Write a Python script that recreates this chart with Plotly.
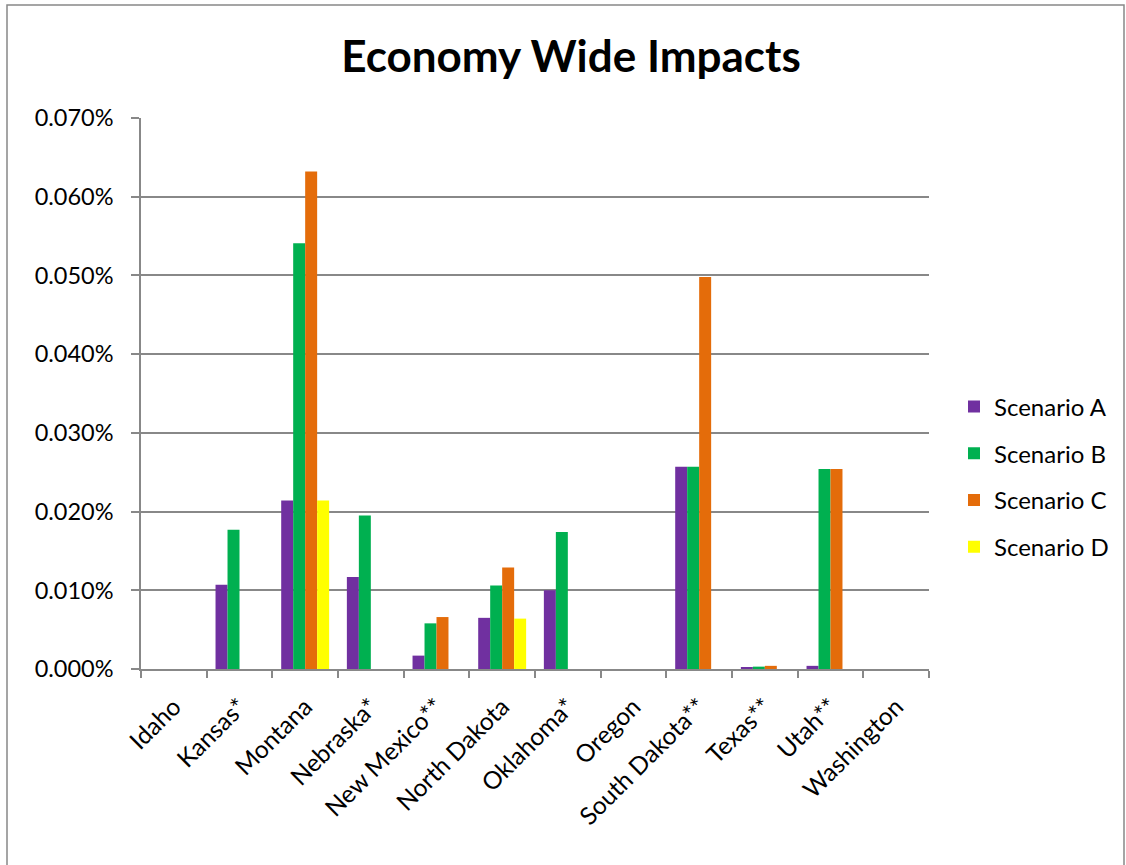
import plotly.graph_objects as go

states = ["Idaho", "Kansas*", "Montana", "Nebraska*", "New Mexico**", "North Dakota",
          "Oklahoma*", "Oregon", "South Dakota**", "Texas**", "Utah**", "Washington"]

# values in percent
scenario_a = [None, 0.0107, 0.0214, 0.0117, 0.0017, 0.0065, 0.0100, None, 0.0257, 0.0002, 0.0004, None]
scenario_b = [None, 0.0177, 0.0541, 0.0195, 0.0058, 0.0106, 0.0174, None, 0.0257, 0.0003, 0.0254, None]
scenario_c = [None, None, 0.0632, None, 0.0066, 0.0129, None, None, 0.0498, 0.0004, 0.0254, None]
scenario_d = [None, None, 0.0214, None, None, 0.0064, None, None, None, None, None, None]

series = [("Scenario A", scenario_a, "#7030A0"),
          ("Scenario B", scenario_b, "#00B050"),
          ("Scenario C", scenario_c, "#E46C0A"),
          ("Scenario D", scenario_d, "#FFFF00")]

FONT = "Lato"
GRID = "#888888"

fig = go.Figure()
for name, vals, col in series:
    fig.add_trace(go.Bar(x=states, y=vals, name=name, marker_color=col,
                         marker_line_width=0, legendgroup=name))

W, H = 1126, 865
L, R, T, B = 141, 929, 118, 669
pw, ph = R - L, B - T

fig.update_layout(
    width=W, height=H,
    margin=dict(l=L, r=W - R, t=T, b=H - B),
    paper_bgcolor="white", plot_bgcolor="white",
    barmode="group", bargap=0.27, bargroupgap=0,
    font=dict(family=FONT, size=23, color="#000000"),
    title=dict(text="<b>Economy Wide Impacts</b>", x=571 / W, xanchor="center",
               y=1 - 57 / H, yanchor="middle", yref="container",
               font=dict(family=FONT, size=44, color="#000000")),
    legend=dict(x=(954 - L) / pw, xanchor="left", y=(B - 477) / ph, yanchor="middle",
                font=dict(family=FONT, size=24), tracegroupgap=12.5,
                bgcolor="rgba(0,0,0,0)"),
    xaxis=dict(showline=True, linecolor=GRID, linewidth=1.5, ticks="outside",
               tickson="boundaries", ticklen=7, tickcolor=GRID, tickwidth=1.5,
               tickangle=-45, tickfont=dict(family=FONT, size=24.5), showgrid=False,
               ticklabelstandoff=12),
    yaxis=dict(range=[0, 0.070], dtick=0.010, tickformat=".3f", ticksuffix="%",
               showline=True, linecolor=GRID, linewidth=1.5, ticks="outside",
               ticklen=8, tickcolor=GRID, tickwidth=1.5, showgrid=True,
               gridcolor=GRID, gridwidth=1.5, zeroline=False,
               tickfont=dict(family=FONT, size=23.5), ticklabelstandoff=13),
    shapes=[dict(type="rect", xref="paper", yref="paper",
                 x0=(7 - L) / pw, x1=(1124 - L) / pw,
                 y0=(B - 880) / ph, y1=(B - 5) / ph,
                 line=dict(color=GRID, width=1.5), fillcolor="rgba(0,0,0,0)",
                 layer="below")],
)

fig.write_html("out.html")
